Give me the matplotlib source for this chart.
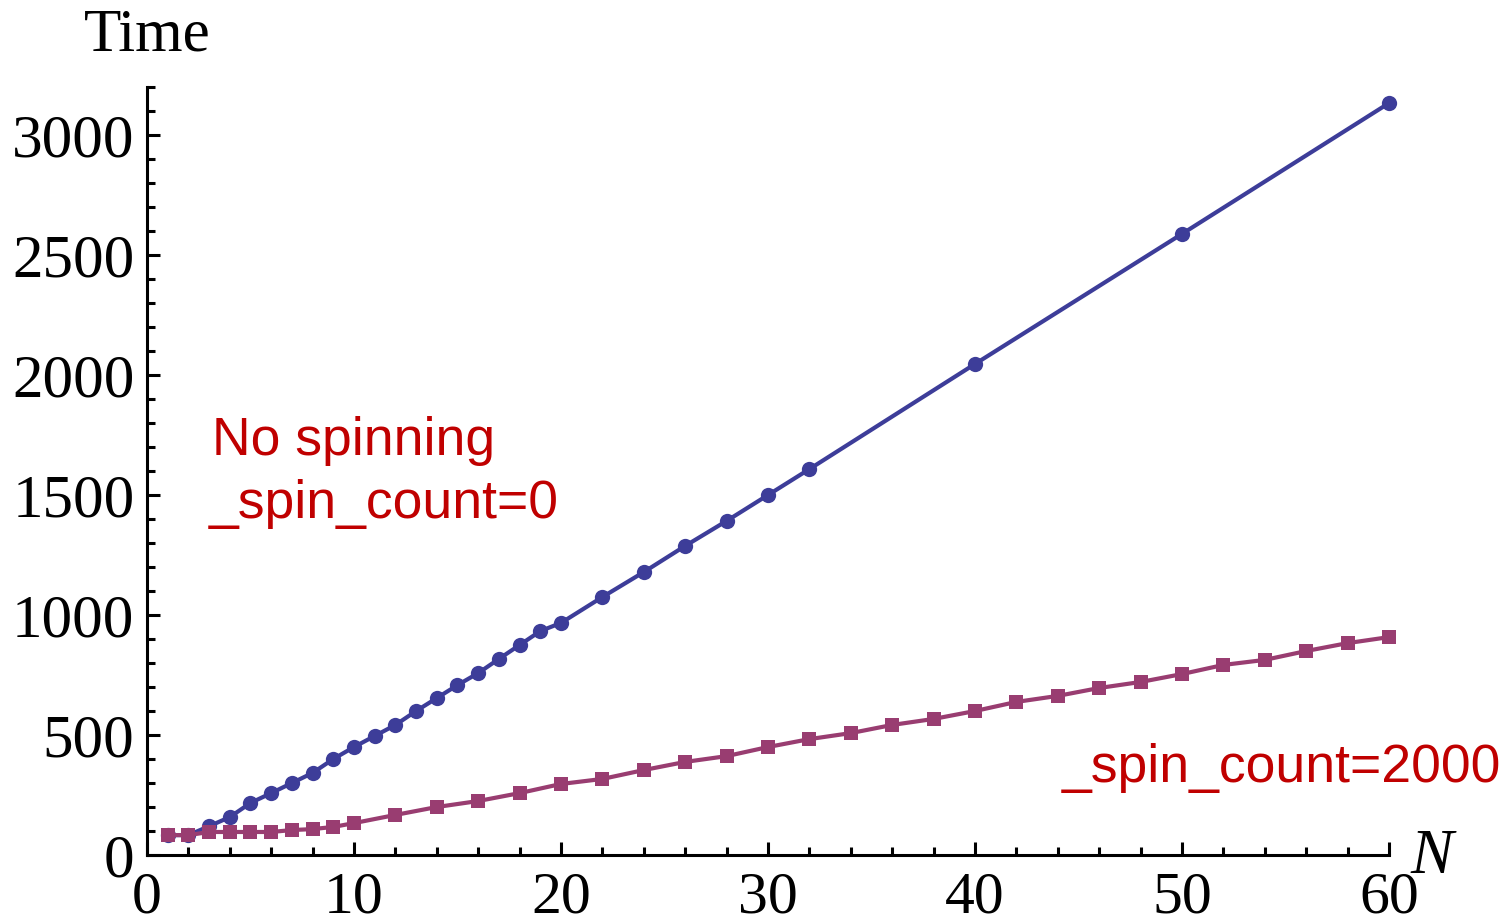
import matplotlib
matplotlib.use('Agg')
from matplotlib import pyplot as plt
from matplotlib.ticker import MultipleLocator

# no spinning (_spin_count=0)
blue_n = list(range(1, 21)) + [22, 24, 26, 28, 30, 32, 40, 50, 60]
blue_t = [83, 83, 120, 158, 217, 258, 300, 342, 400, 450,
          496, 542, 600, 654, 708, 758, 817, 875, 933, 967,
          1075, 1179, 1288, 1392, 1500, 1608, 2046, 2588, 3133]

# _spin_count=2000
pink_n = list(range(1, 11)) + list(range(12, 61, 2))
pink_t = [83, 83, 96, 96, 96, 96, 104, 108, 117, 133,
          167, 200, 225, 258, 296, 317, 354, 388, 412, 450,
          483, 508, 542, 567, 600, 638, 663, 696, 721, 754,
          792, 813, 850, 883, 908]

x_ticks = [0, 10, 20, 30, 40, 50, 60]
y_ticks = [0, 500, 1000, 1500, 2000, 2500, 3000]

blue = '#3d3d99'
pink = '#993d71'
red = '#c00000'

fig = plt.figure(figsize=(15.06, 9.18), dpi=100)
ax = fig.add_axes([0.0976, 0.0686, 0.8247, 0.8366])

ax.plot(blue_n, blue_t, color=blue, lw=3.0, marker='o', ms=11,
        markeredgewidth=0, solid_capstyle='butt', clip_on=False)
ax.plot(pink_n, pink_t, color=pink, lw=3.0, marker='s', ms=10.5,
        markeredgewidth=0, solid_capstyle='butt', clip_on=False)

ax.set_xlim(0, 60)
ax.set_ylim(0, 3200)
ax.set_xticks(x_ticks)
ax.set_yticks(y_ticks)
ax.xaxis.set_minor_locator(MultipleLocator(2))
ax.yaxis.set_minor_locator(MultipleLocator(100))

for s in ['top', 'right']:
    ax.spines[s].set_visible(False)
for s in ['left', 'bottom']:
    ax.spines[s].set_linewidth(2.2)
ax.tick_params(which='both', direction='in', width=2.2, colors='black')
ax.tick_params(which='major', length=9.5)
ax.tick_params(which='minor', length=5.5)
ax.tick_params(axis='x', which='major', pad=12, labelsize=43)
ax.tick_params(axis='y', which='major', pad=9, labelsize=44)
for lab in ax.get_xticklabels() + ax.get_yticklabels():
    lab.set_fontfamily('Liberation Serif')

ax.text(0.0, 1.03, 'Time', transform=ax.transAxes, ha='center', va='bottom',
        fontsize=44, family='Liberation Serif')
ax.text(1.017, -0.0234, 'N', transform=ax.transAxes, ha='left',
        va='baseline', fontsize=46, family='Liberation Serif', style='italic')

ax.text(3.15, 1667, 'No spinning', color=red, fontsize=38.5,
        family='Liberation Sans', va='baseline')
ax.text(3.0, 1404, '_spin_count=0', color=red, fontsize=38.5,
        family='Liberation Sans', va='baseline')
ax.text(44.2, 304, '_spin_count=2000', color=red, fontsize=38.5,
        family='Liberation Sans', va='baseline', clip_on=False)

fig.savefig('out.png', dpi=100, facecolor='white')
